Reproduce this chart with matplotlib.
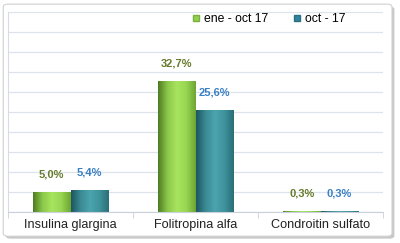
import matplotlib
matplotlib.use("Agg")
import matplotlib.pyplot as plt
import numpy as np
from matplotlib.patches import FancyBboxPatch
from matplotlib.lines import Line2D
from matplotlib.colors import LinearSegmentedColormap

categories = ["Insulina glargina", "Folitropina alfa", "Condroitin sulfato"]
series_names = ["ene - oct 17", "oct - 17"]
ene_oct = [5.0, 32.7, 0.3]
oct_17 = [5.4, 25.6, 0.3]
labels_ene = ["5,0%", "32,7%", "0,3%"]
labels_oct = ["5,4%", "25,6%", "0,3%"]

plt.rcParams['font.family'] = ['Liberation Sans', 'DejaVu Sans']

fig = plt.figure(figsize=(4.0, 2.43), dpi=100)
fig.patch.set_facecolor("white")

# card with shadow
shadow = FancyBboxPatch((0.014, 0.018), 0.972, 0.955, boxstyle="round,pad=0,rounding_size=0.012",
                        transform=fig.transFigure, facecolor="#c8c8c8", edgecolor="none", zorder=-2)
card = FancyBboxPatch((0.008, 0.028), 0.972, 0.955, boxstyle="round,pad=0,rounding_size=0.012",
                      transform=fig.transFigure, facecolor="white", edgecolor="#d0d0d0", linewidth=0.8, zorder=-1)
fig.patches.extend([shadow, card])

ax = fig.add_axes([0.02, 0.1276, 0.9375, 0.823])
ax.set_zorder(1)
ax.set_facecolor("none")
ax.set_xlim(-0.5, 2.5)
ax.set_ylim(0, 50)
ax.set_yticks(np.arange(0, 51, 5))
ax.yaxis.grid(True, color="#dde2ec", linewidth=0.9)
ax.set_axisbelow(True)
ax.tick_params(axis="y", left=False, labelleft=False)
for s in ["top", "right"]:
    ax.spines[s].set_visible(False)
ax.spines["left"].set_color("#d6dbe6")
ax.spines["bottom"].set_color("#c9cfdc")

x = np.arange(len(categories))
w = 0.3
green_cmap = LinearSegmentedColormap.from_list("g", ["#4f7d22", "#8cc84a", "#a8e45e", "#98d652", "#6fa534"])
teal_cmap = LinearSegmentedColormap.from_list("t", ["#1d5660", "#3a8a95", "#4ba4ae", "#3f939d", "#2b6f78"])

b1 = ax.bar(x - w / 2, ene_oct, w, color="#92d050", zorder=2)
b2 = ax.bar(x + w / 2, oct_17, w, color="#31859c", zorder=2)
grad = np.linspace(0, 1, 64).reshape(1, -1)
for bars, cmap in ((b1, green_cmap), (b2, teal_cmap)):
    for p in bars:
        x0, y0 = p.get_x(), p.get_y()
        im = ax.imshow(grad, cmap=cmap, aspect="auto", extent=(x0, x0 + p.get_width(), y0, y0 + p.get_height()),
                       zorder=2.5)
        im.set_clip_path(p)
ax.set_xlim(-0.5, 2.5)
ax.set_ylim(0, 50)

for xi, v, lab in zip(x, ene_oct, labels_ene):
    ax.annotate(lab, (xi - w / 2, v), xytext=(0, 9), textcoords="offset points", ha="center", va="bottom",
                fontsize=8, fontweight="bold", color="#667b2c")
for xi, v, lab in zip(x, oct_17, labels_oct):
    ax.annotate(lab, (xi + w / 2, v), xytext=(0, 9), textcoords="offset points", ha="center", va="bottom",
                fontsize=8, fontweight="bold", color="#3a80c4")

ax.set_xticks(x)
ax.set_xticklabels(categories, fontsize=9.1, color="#222222")
ax.set_xticks([-0.5, 0.5, 1.5, 2.5], minor=True)
ax.tick_params(axis="x", which="major", length=0, pad=5)
ax.tick_params(axis="x", which="minor", length=4, color="#c9cfdc")

handles = [Line2D([], [], marker="s", linestyle="none", markersize=4.5, markerfacecolor="#92d050", markeredgecolor="#7ab03c"),
           Line2D([], [], marker="s", linestyle="none", markersize=4.5, markerfacecolor="#31859c", markeredgecolor="#2a7080")]
ax.legend(handles, series_names, loc="center", bbox_to_anchor=(0.695, 0.965), ncol=2, frameon=False,
          fontsize=8.8, handlelength=0.7, handletextpad=0.3, columnspacing=2.0, borderaxespad=0)

fig.savefig("out.png", dpi=100, facecolor="white")
